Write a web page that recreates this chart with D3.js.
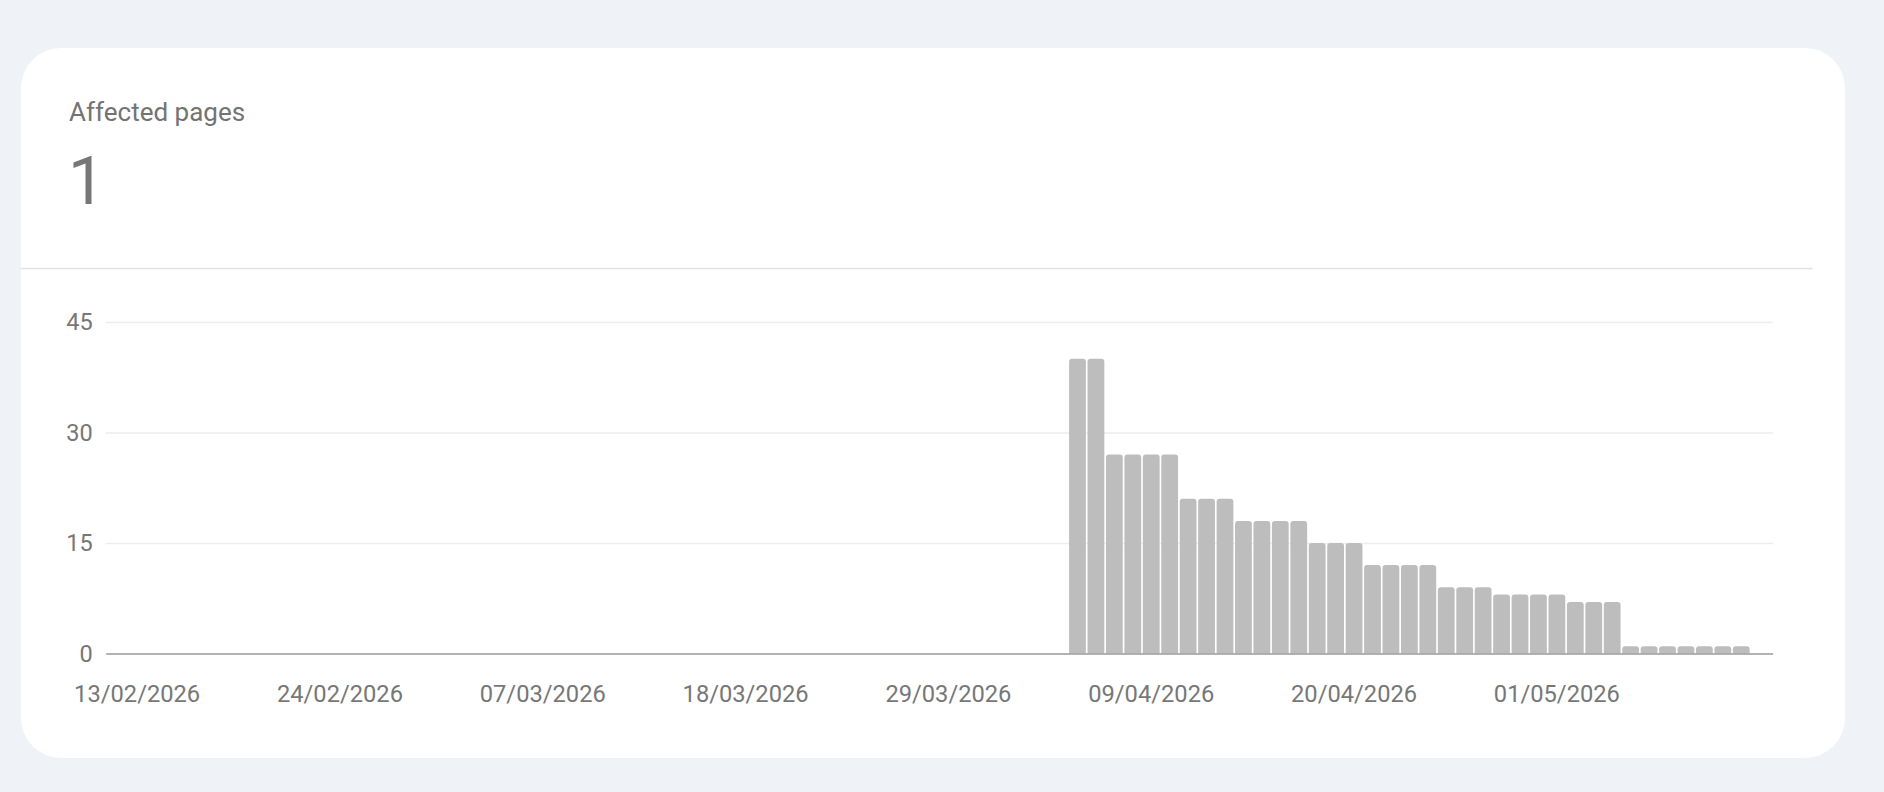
<!DOCTYPE html>
<html>
<head>
<meta charset="utf-8">
<script src="https://cdn.jsdelivr.net/npm/d3@7"></script>
<style>
  html, body { margin: 0; padding: 0; background: #eff2f7; }
  svg { display: block; font-family: Roboto, "Noto Sans", sans-serif; }
</style>
</head>
<body>
<svg id="chart" width="1884" height="792"></svg>
<script>
// ---- data ----
const title = "Affected pages";
const currentValue = "1";
const firstDay = "12/02/2026";   // first category on the axis
const lastDay = "12/05/2026";    // last category on the axis
const dataStart = "05/04/2026";  // first day with data
const values = [40, 40, 27, 27, 27, 27, 21, 21, 21, 18, 18, 18, 18, 15, 15, 15,
                12, 12, 12, 12, 9, 9, 9, 8, 8, 8, 8, 7, 7, 7, 1, 1, 1, 1, 1, 1, 1];
const xTickLabels = ["13/02/2026", "24/02/2026", "07/03/2026", "18/03/2026",
                     "29/03/2026", "09/04/2026", "20/04/2026", "01/05/2026"];
const yTicks = [0, 15, 30, 45];

// ---- build ----
const parse = d3.timeParse("%d/%m/%Y");
const fmt = d3.timeFormat("%d/%m/%Y");
const categories = d3.timeDay.range(parse(firstDay), d3.timeDay.offset(parse(lastDay), 1)).map(fmt);
const startIdx = categories.indexOf(dataStart);
const data = values.map((v, i) => ({ day: categories[startIdx + i], value: v }));

const svg = d3.select("#chart");

// card
const card = { x: 21, y: 48, w: 1824, h: 710, r: 40 };
svg.append("rect")
  .attr("x", card.x).attr("y", card.y)
  .attr("width", card.w).attr("height", card.h)
  .attr("rx", card.r).attr("ry", card.r)
  .attr("fill", "#ffffff");

svg.append("text")
  .attr("x", 69).attr("y", 121)
  .attr("font-size", 26)
  .attr("fill", "#737373")
  .text(title);

svg.append("text")
  .attr("x", 68).attr("y", 204)
  .attr("font-size", 66)
  .attr("fill", "#777777")
  .text(currentValue);

svg.append("line")
  .attr("x1", card.x).attr("x2", 1812.5)
  .attr("y1", 268.5).attr("y2", 268.5)
  .attr("stroke", "#e2e2e2").attr("stroke-width", 1.5);

// chart area
const plot = { left: 105.7, right: 1772.7, top: 322, bottom: 653.5 };

const x = d3.scaleBand()
  .domain(categories)
  .range([plot.left, plot.right])
  .paddingInner(0.09)
  .paddingOuter(0.25);

const y = d3.scaleLinear()
  .domain([0, 45])
  .range([plot.bottom, plot.top]);

// gridlines + y labels
const yAxis = d3.axisLeft(y)
  .tickValues(yTicks)
  .tickSize(-(plot.right - plot.left))
  .tickPadding(13);

const gy = svg.append("g")
  .attr("transform", `translate(${plot.left},0)`)
  .call(yAxis);
gy.select(".domain").remove();
gy.selectAll(".tick line")
  .attr("stroke", d => d === 0 ? "none" : "#ededed")
  .attr("stroke-width", 1.5);
gy.selectAll(".tick text")
  .attr("fill", "#777777")
  .attr("font-size", 23.5)
  .attr("font-family", "Roboto, 'Noto Sans', sans-serif");

// bars with rounded top corners
const rr = 3;
function barPath(d) {
  const x0 = x(d.day), w = x.bandwidth();
  const y0 = y(d.value), yb = y(0);
  const r = Math.min(rr, (yb - y0) / 2, w / 2);
  return `M${x0},${yb} L${x0},${y0 + r} Q${x0},${y0} ${x0 + r},${y0} ` +
         `L${x0 + w - r},${y0} Q${x0 + w},${y0} ${x0 + w},${y0 + r} L${x0 + w},${yb} Z`;
}
svg.append("g")
  .selectAll("path")
  .data(data)
  .join("path")
  .attr("d", barPath)
  .attr("fill", "#bdbdbd");

// x axis
const xAxis = d3.axisBottom(x)
  .tickValues(xTickLabels)
  .tickSize(0)
  .tickPadding(32);
const gx = svg.append("g")
  .attr("transform", `translate(0,${plot.bottom})`)
  .call(xAxis);
gx.select(".domain")
  .attr("stroke", "#9a9a9a")
  .attr("stroke-width", 1.6);
gx.selectAll(".tick text")
  .attr("fill", "#777777")
  .attr("font-size", 23.7)
  .attr("font-family", "Roboto, 'Noto Sans', sans-serif");
</script>
</body>
</html>
